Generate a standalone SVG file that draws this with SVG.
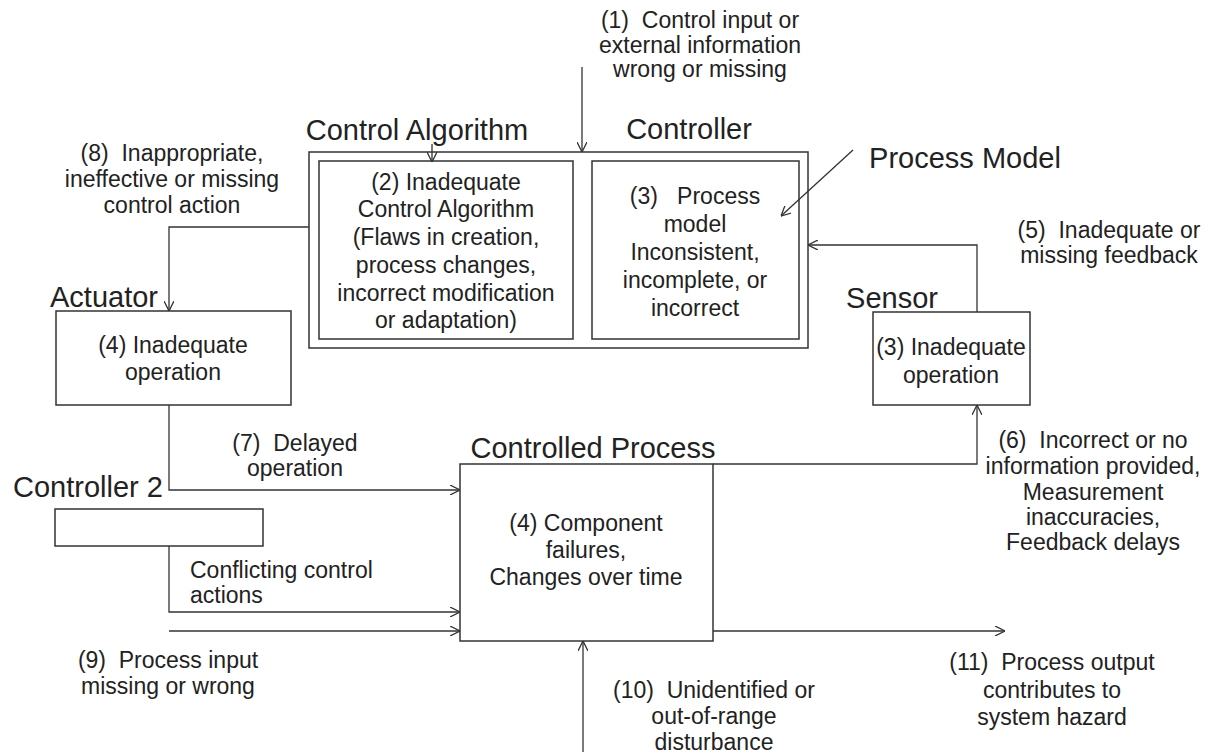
<svg xmlns="http://www.w3.org/2000/svg" width="1222" height="756" viewBox="0 0 1222 756">
<style>
text{font-family:"Liberation Sans",Arial,sans-serif;fill:#222;white-space:pre}
.b{font-size:23px;text-anchor:middle}
.l{font-size:23px}
.h{font-size:29px;text-anchor:middle}
.box{fill:#fff;stroke:#333;stroke-width:1.5}
.c{fill:none;stroke:#333;stroke-width:1.3}
</style>
<defs>
<marker id="a" viewBox="0 0 10 10" refX="10" refY="5" markerWidth="10" markerHeight="10" markerUnits="userSpaceOnUse" orient="auto">
<path d="M0,0 L10,5 L0,10" fill="none" stroke="#333" stroke-width="1.3"/>
</marker>
</defs>
<rect width="1222" height="756" fill="#fff"/>

<g id="controller">
<rect class="box" x="309" y="152" width="499" height="196"/>
<text class="h" x="689" y="139">Controller</text>
</g>
<g id="control-algorithm">
<rect class="box" x="319" y="161" width="254" height="178"/>
<text class="b" x="446" y="190">(2) Inadequate</text>
<text class="b" x="446" y="217">Control Algorithm</text>
<text class="b" x="446" y="245">(Flaws in creation,</text>
<text class="b" x="446" y="273">process changes,</text>
<text class="b" x="446" y="301">incorrect modification</text>
<text class="b" x="446" y="328">or adaptation)</text>
</g>
<g id="process-model">
<rect class="box" x="592" y="161" width="207" height="178"/>
<text class="b" x="695" y="204">(3)   Process</text>
<text class="b" x="695" y="232">model</text>
<text class="b" x="695" y="260">Inconsistent,</text>
<text class="b" x="695" y="288">incomplete, or</text>
<text class="b" x="695" y="316">incorrect</text>
</g>
<g id="actuator">
<rect class="box" x="56" y="311" width="235" height="94"/>
<text class="h" x="104" y="307">Actuator</text>
<text class="b" x="173" y="353">(4) Inadequate</text>
<text class="b" x="173" y="380">operation</text>
</g>
<g id="sensor">
<rect class="box" x="873" y="312" width="157" height="93"/>
<text class="h" x="892" y="308">Sensor</text>
<text class="b" x="951" y="355">(3) Inadequate</text>
<text class="b" x="951" y="383">operation</text>
</g>
<g id="controlled-process">
<rect class="box" x="460" y="464" width="253" height="177"/>
<text class="h" x="593" y="458">Controlled Process</text>
<text class="b" x="586" y="531">(4) Component</text>
<text class="b" x="586" y="558">failures,</text>
<text class="b" x="586" y="585">Changes over time</text>
</g>
<g id="controller2">
<rect class="box" x="55" y="509" width="208" height="37"/>
<text class="h" x="88" y="497">Controller 2</text>
</g>

<g id="connectors">
<path class="c" d="M582,67 V152" marker-end="url(#a)"/>
<path class="c" d="M432,144 V162" marker-end="url(#a)"/>
<path class="c" d="M853,150 L781,216" marker-end="url(#a)"/>
<path class="c" d="M977,312 V245 H808" marker-end="url(#a)"/>
<path class="c" d="M309,227 H169 V311" marker-end="url(#a)"/>
<path class="c" d="M169,405 V490 H460" marker-end="url(#a)"/>
<path class="c" d="M169,546 V612 H460" marker-end="url(#a)"/>
<path class="c" d="M169,631 H460" marker-end="url(#a)"/>
<path class="c" d="M713,631 H1005" marker-end="url(#a)"/>
<path class="c" d="M583,752 V641" marker-end="url(#a)"/>
<path class="c" d="M713,464 H977 V405" marker-end="url(#a)"/>
</g>

<g id="labels">
<text class="h" x="417" y="140">Control Algorithm</text>
<text class="h" x="965" y="168">Process Model</text>
<text class="b" x="700" y="28">(1)  Control input or</text>
<text class="b" x="700" y="53">external information</text>
<text class="b" x="700" y="77">wrong or missing</text>
<text class="b" x="172" y="161">(8)  Inappropriate,</text>
<text class="b" x="172" y="187">ineffective or missing</text>
<text class="b" x="172" y="213">control action</text>
<text class="b" x="1109" y="238">(5)  Inadequate or</text>
<text class="b" x="1109" y="263">missing feedback</text>
<text class="b" x="295" y="451">(7)  Delayed</text>
<text class="b" x="295" y="476">operation</text>
<text class="b" x="1093" y="448">(6)  Incorrect or no</text>
<text class="b" x="1093" y="474">information provided,</text>
<text class="b" x="1093" y="500">Measurement</text>
<text class="b" x="1093" y="525">inaccuracies,</text>
<text class="b" x="1093" y="550">Feedback delays</text>
<text class="l" x="190" y="578">Conflicting control</text>
<text class="l" x="190" y="603">actions</text>
<text class="b" x="168" y="668">(9)  Process input</text>
<text class="b" x="168" y="694">missing or wrong</text>
<text class="b" x="714" y="698">(10)  Unidentified or</text>
<text class="b" x="714" y="724">out-of-range</text>
<text class="b" x="714" y="750">disturbance</text>
<text class="b" x="1052" y="670">(11)  Process output</text>
<text class="b" x="1052" y="698">contributes to</text>
<text class="b" x="1052" y="725">system hazard</text>
</g>
</svg>
